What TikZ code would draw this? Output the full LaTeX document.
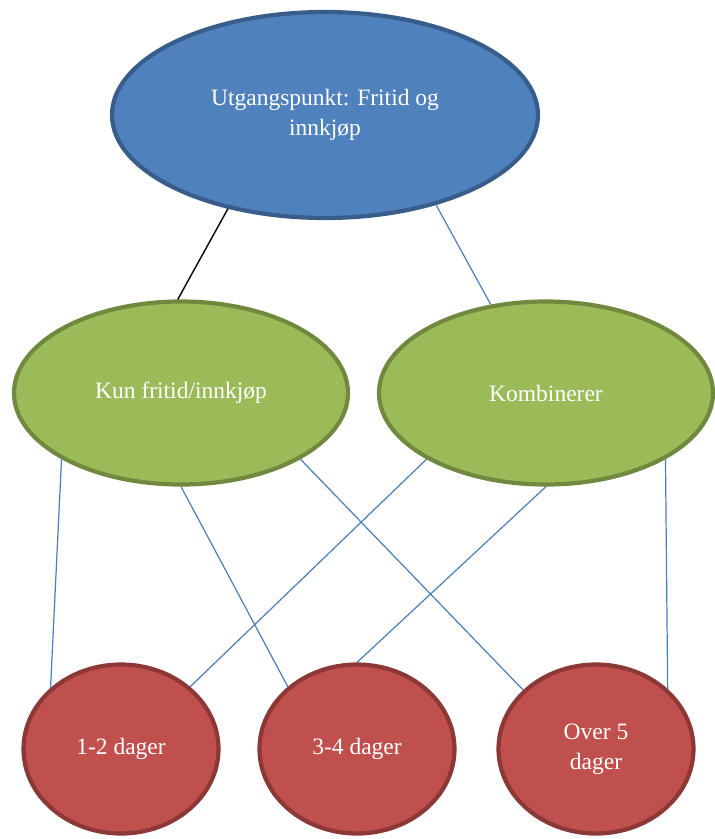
\documentclass[tikz,border=0pt]{standalone}
\usepackage{fontspec}
\setmainfont{Liberation Serif}
\definecolor{TopBlue}{HTML}{4F81BD}
\definecolor{TopBlueEdge}{HTML}{385D8A}
\definecolor{MidGreen}{HTML}{9BBB59}
\definecolor{MidGreenEdge}{HTML}{71893F}
\definecolor{DayRed}{HTML}{C0504D}
\definecolor{DayRedEdge}{HTML}{8C3836}
\definecolor{LinkBlue}{HTML}{4A7EBB}
\usetikzlibrary{shapes.geometric}

\begin{document}
\begin{tikzpicture}[x=1pt,y=-1pt,
    blob/.style={ellipse,line width=4.2pt,inner sep=0pt,text=white,align=center,font=\fontsize{23.5}{30.5}\selectfont},
    topblob/.style={blob,fill=TopBlue,draw=TopBlueEdge,minimum width=426pt,minimum height=206pt},
    midblob/.style={blob,fill=MidGreen,draw=MidGreenEdge,minimum width=334pt,minimum height=183pt},
    dayblob/.style={blob,fill=DayRed,draw=DayRedEdge,minimum width=195pt,minimum height=169pt},
    link/.style={LinkBlue,line width=1.2pt}]
  \useasboundingbox (0,0) rectangle (715,839);
  \node[topblob] (start) at (325,115) {Utgangspunkt: Fritid og\\innkjøp};
  \node[midblob] (kun) at (181,393) {Kun fritid/innkjøp};
  \node[midblob] (komb) at (546,393) {Kombinerer};
  \node[dayblob] (d12) at (121,749) {1-2 dager};
  \node[dayblob] (d34) at (357,749) {3-4 dager};
  \node[dayblob] (d5) at (596,749) {Over 5\\dager};
  % top level
  \draw[black,line width=1.4pt] (start.224) -- (kun.92);
  \draw[link] (start.321) -- (komb.122);
  % to the day counts
  \draw[link] (kun.209) -- (d12.139);
  \draw[link] (kun.270) -- (d34.138);
  \draw[link] (kun.331) -- (d5.141);
  \draw[link] (komb.209) -- (d12.42);
  \draw[link] (komb.270) -- (d34.90);
  \draw[link] (komb.331) -- (d5.40);
\end{tikzpicture}
\end{document}
